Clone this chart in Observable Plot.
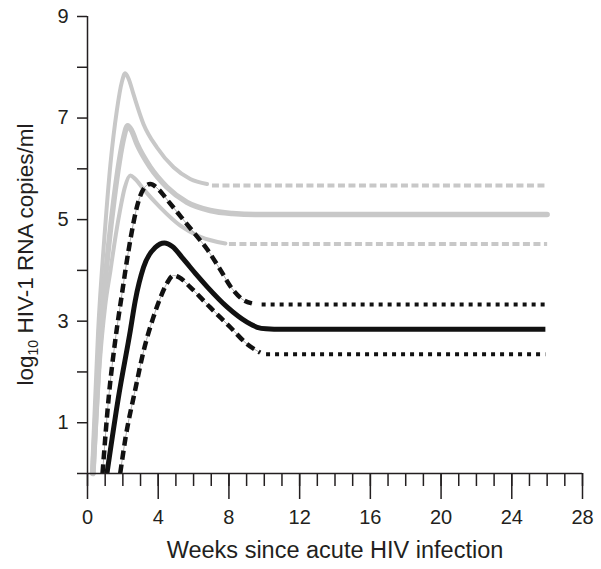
<!DOCTYPE html>
<html><head><meta charset="utf-8">
<script src="https://cdn.jsdelivr.net/npm/d3@7"></script>
<script src="https://cdn.jsdelivr.net/npm/@observablehq/plot@0.6"></script>
<style>body{margin:0;background:#fff;} svg{display:block}</style>
</head><body><div id="chart"></div>
<script>
// ---- Axis ticks ----
const xMinorTicks = [0,1,2,3,4,5,6,7,8,9,10,11,12,13,14,15,16,17,18,19,20,21,22,23,24,25,26,27,28];
const xMajorTicks = [0,4,8,12,16,20,24,28];
const yTicks = [0,1,2,3,4,5,6,7,8,9];
const yLabelTicks = [1,3,5,7,9];
const xTitle = "Weeks since acute HIV infection";

// ---- Curves: [week, log10 HIV-1 RNA copies/ml] ----
// gray (upper band / median / lower band)
const grayUpper = [[0.25,0],[0.6,2.8],[1.0,4.85],[1.3,6.1],[1.66,7.15],[1.95,7.72],[2.13,7.88],[2.35,7.75],[2.6,7.47],[3.17,6.88],[3.93,6.42],[4.87,6.03],[5.81,5.8],[6.76,5.7]];
const grayUpperTail = [[7.04,5.67],[26,5.67]];
const grayMedian = [[0.3,0],[0.6,2.0],[0.9,3.4],[1.2,4.5],[1.5,5.4],[1.8,6.15],[2.05,6.62],[2.27,6.85],[2.5,6.75],[2.8,6.49],[3.55,6.03],[4.49,5.64],[5.63,5.34],[6.94,5.18],[8.2,5.12],[9.5,5.1],[26,5.1]];
const grayLower = [[0.35,0],[0.7,2.2],[1.0,3.3],[1.3,4.0],[1.6,4.7],[1.85,5.2],[2.1,5.62],[2.42,5.87],[2.7,5.8],[3.17,5.6],[4.11,5.24],[5.25,4.88],[6.38,4.66],[7.8,4.53]];
const grayLowerTail = [[8.0,4.52],[26,4.52]];
// black (upper band / median / lower band)
const blackUpper = [[0.85,0],[1.2,1.5],[1.57,2.62],[1.95,3.54],[2.32,4.39],[2.89,5.37],[3.27,5.65],[3.55,5.7],[4.0,5.6],[4.6,5.35],[5.3,5.05],[6.0,4.75],[6.76,4.42],[7.5,4.02],[8.2,3.63],[8.8,3.42],[9.3,3.35]];
const blackUpperTail = [[9.85,3.33],[25.9,3.33]];
const blackMedian = [[1.1,0],[1.75,1.5],[2.42,2.81],[2.7,3.4],[3.17,4.06],[3.83,4.45],[4.35,4.54],[4.8,4.47],[5.43,4.22],[6.2,3.9],[6.76,3.68],[7.89,3.28],[9.02,2.98],[9.6,2.88],[10.1,2.85],[11,2.84],[25.9,2.84]];
const blackLower = [[1.85,0],[2.15,0.7],[2.7,1.65],[3.2,2.45],[3.7,3.05],[4.11,3.45],[4.5,3.75],[4.87,3.9],[5.2,3.86],[5.81,3.67],[6.94,3.27],[8.08,2.88],[9.02,2.55],[9.77,2.38]];
const blackLowerTail = [[10.1,2.35],[25.9,2.35]];

const GRAY = "#c8c8c8";
const INK = "#231f20";
const FONT = "Liberation Sans, Arial, Helvetica, sans-serif";
const px = d => d[0], py = d => d[1];
const C = "monotone-x";

const plot = Plot.plot({
  width: 601,
  height: 569,
  marginLeft: 87,
  marginRight: 19,
  marginTop: 16,
  marginBottom: 96,
  style: {fontFamily: FONT, color: INK, background: "#fff"},
  x: {domain: [0, 28], axis: null},
  y: {domain: [0, 9], axis: null},
  marks: [
    // gray curves
    Plot.line(grayUpper, {x: px, y: py, curve: C, stroke: GRAY, strokeWidth: 4, strokeLinecap: "round", strokeLinejoin: "round"}),
    Plot.line(grayUpperTail, {x: px, y: py, stroke: GRAY, strokeWidth: 4, strokeLinecap: "butt", strokeDasharray: "7,3.5"}),
    Plot.line(grayLower, {x: px, y: py, curve: C, stroke: GRAY, strokeWidth: 4, strokeLinecap: "round", strokeLinejoin: "round"}),
    Plot.line(grayLowerTail, {x: px, y: py, stroke: GRAY, strokeWidth: 4, strokeLinecap: "butt", strokeDasharray: "7,3.5"}),
    Plot.line(grayMedian, {x: px, y: py, curve: C, stroke: GRAY, strokeWidth: 5.5, strokeLinecap: "round", strokeLinejoin: "round"}),
    // black curves
    Plot.line(blackUpper, {x: px, y: py, curve: C, stroke: "#9a9a9a", strokeWidth: 0.8}),
    Plot.line(blackUpper, {x: px, y: py, curve: C, stroke: "#111", strokeWidth: 4.5, strokeLinecap: "butt", strokeDasharray: "9,5"}),
    Plot.line(blackUpperTail, {x: px, y: py, stroke: "#111", strokeWidth: 4, strokeLinecap: "butt", strokeDasharray: "4,5"}),
    Plot.line(blackLower, {x: px, y: py, curve: C, stroke: "#9a9a9a", strokeWidth: 0.8}),
    Plot.line(blackLower, {x: px, y: py, curve: C, stroke: "#111", strokeWidth: 4.5, strokeLinecap: "butt", strokeDasharray: "9,5"}),
    Plot.line(blackLowerTail, {x: px, y: py, stroke: "#111", strokeWidth: 4, strokeLinecap: "butt", strokeDasharray: "4,5"}),
    Plot.line(blackMedian, {x: px, y: py, curve: C, stroke: "#111", strokeWidth: 5, strokeLinecap: "butt", strokeLinejoin: "round"}),
    // axes
    Plot.ruleY([0], {stroke: INK, strokeWidth: 1.5}),
    Plot.ruleX([0], {y1: 0, y2: 9, stroke: INK, strokeWidth: 1.5}),
    Plot.axisY({ticks: yTicks, tickSize: 10, tickPadding: 9, strokeWidth: 1.5, fontSize: 20,
      tickFormat: d => yLabelTicks.includes(d) ? String(d) : "", label: null}),
    Plot.axisX({ticks: xMinorTicks, tickSize: 13, strokeWidth: 1.5, tickFormat: () => "", label: null}),
    Plot.axisX({ticks: xMajorTicks, tickSize: 26, tickPadding: 10, strokeWidth: 1.5, fontSize: 20, label: null}),
    Plot.text([xTitle], {x: 14, y: 0, dy: 77, text: d => d, fontSize: 23.5, fill: INK, lineAnchor: "middle"})
  ]
});

document.getElementById("chart").appendChild(plot);

// y-axis title with subscript
const svg = d3.select(plot);
const yMid = plot.scale("y").apply(4.5) + 10;
const t = svg.append("text")
  .attr("transform", `translate(33,${yMid}) rotate(-90)`)
  .attr("text-anchor", "middle")
  .attr("font-family", FONT)
  .attr("font-size", 22.5)
  .attr("fill", INK);
t.append("tspan").text("log");
t.append("tspan").attr("font-size", 14).attr("dy", 5).text("10");
t.append("tspan").attr("dy", -5).text(" HIV-1 RNA copies/ml");
</script>
</body></html>
